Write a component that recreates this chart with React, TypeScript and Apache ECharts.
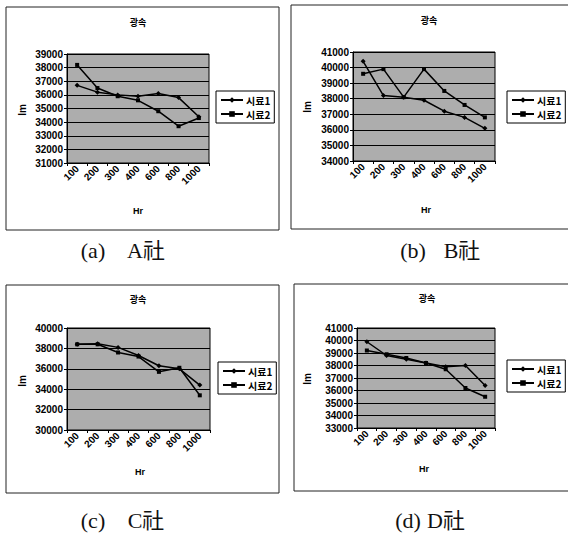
import React, { useEffect, useRef } from "react";
import * as echarts from "echarts";

const categories = ["100", "200", "300", "400", "600", "800", "1000"];

const aS1 = [36700, 36200, 36000, 35900, 36100, 35800, 34400];
const aS2 = [38200, 36500, 35900, 35600, 34800, 33700, 34300];

const bS1 = [40400, 38200, 38100, 37900, 37200, 36800, 36100];
const bS2 = [39600, 39900, 38100, 39900, 38500, 37600, 36800];

const cS1 = [38400, 38450, 38100, 37300, 36300, 36000, 34400];
const cS2 = [38400, 38400, 37600, 37200, 35700, 36100, 33400];

const dS1 = [39900, 38800, 38500, 38200, 37900, 38000, 36400];
const dS2 = [39200, 38900, 38600, 38200, 37700, 36200, 35500];

const yRanges = [
  { min: 31000, max: 39000, interval: 1000 },
  { min: 34000, max: 41000, interval: 1000 },
  { min: 30000, max: 40000, interval: 2000 },
  { min: 33000, max: 41000, interval: 1000 },
];

const seriesNames = ["시료1", "시료2"];
const chartTitle = "광속";
const yName = "lm";
const xName = "Hr";
const captionLetters = ["(a)", "(b)", "(c)", "(d)"];
const captionNames = ["A社", "B社", "C社", "D社"];

export default function App() {
  const ref = useRef<HTMLDivElement>(null);
  useEffect(() => {
    if (!ref.current) return;
    const chart = echarts.init(ref.current, null, { renderer: "svg" });

    const grids = [
      { left: 67, top: 54, width: 142, height: 109 },
      { left: 353, top: 52, width: 142, height: 109 },
      { left: 67, top: 328, width: 143, height: 102 },
      { left: 357, top: 328, width: 138, height: 100 },
    ];
    const panels = [
      { x: 6, y: 7, w: 273, h: 223, titleX: 138, titleY: 22, lmX: 22, lmY: 110, hrX: 138, hrY: 211, legX: 216, legY: 91, capAX: 93, capBX: 146, capY: 250 },
      { x: 291, y: 5, w: 280, h: 224, titleX: 429, titleY: 20, lmX: 307, lmY: 107, hrX: 426, hrY: 210, legX: 507, legY: 91, capAX: 413, capBX: 462, capY: 250 },
      { x: 6, y: 285, w: 273, h: 208, titleX: 138, titleY: 299, lmX: 22, lmY: 381, hrX: 140, hrY: 472, legX: 218, legY: 362, capAX: 93, capBX: 146, capY: 520 },
      { x: 294, y: 284, w: 280, h: 207, titleX: 427, titleY: 298, lmX: 307, lmY: 379, hrX: 424, hrY: 469, legX: 507, legY: 360, capAX: 408, capBX: 446, capY: 520 },
    ];
    const data = [
      [aS1, aS2],
      [bS1, bS2],
      [cS1, cS2],
      [dS1, dS2],
    ];

    const labelFont = { fontSize: 10, fontWeight: "bold" as const, color: "#000", fontFamily: "Liberation Sans, Arial, sans-serif" };
    const capFont = "22px 'Liberation Serif', 'Noto Sans CJK KR', serif";

    const graphic: any[] = [];
    panels.forEach((p, i) => {
      graphic.push({
        type: "rect",
        shape: { x: p.x, y: p.y, width: p.w, height: p.h },
        style: { fill: "none", stroke: "#222", lineWidth: 1 },
        silent: true,
      });
      graphic.push({
        type: "text",
        x: p.titleX,
        y: p.titleY,
        style: { text: chartTitle, align: "center", verticalAlign: "middle", textAlign: "center", textVerticalAlign: "middle", font: "bold 9px 'Noto Sans CJK KR', sans-serif", fill: "#000" },
      });
      graphic.push({
        type: "text",
        x: p.lmX,
        y: p.lmY,
        rotation: Math.PI / 2,
        style: { text: yName, align: "center", verticalAlign: "middle", textAlign: "center", textVerticalAlign: "middle", font: "bold 10px 'Liberation Sans', Arial, sans-serif", fill: "#000" },
      });
      graphic.push({
        type: "text",
        x: p.hrX,
        y: p.hrY,
        style: { text: xName, align: "center", verticalAlign: "middle", textAlign: "center", textVerticalAlign: "middle", font: "bold 9px 'Liberation Sans', Arial, sans-serif", fill: "#000" },
      });
      graphic.push({
        type: "text",
        x: p.capAX,
        y: p.capY,
        style: { text: captionLetters[i], align: "center", verticalAlign: "middle", textAlign: "center", textVerticalAlign: "middle", font: capFont, fill: "#111" },
      });
      graphic.push({
        type: "text",
        x: p.capBX,
        y: p.capY,
        style: { text: captionNames[i], align: "center", verticalAlign: "middle", textAlign: "center", textVerticalAlign: "middle", font: capFont, fill: "#111" },
      });
    });

    const option: any = {
      animation: false,
      backgroundColor: "#fff",
      grid: grids.map((g) => ({
        ...g,
        show: true,
        backgroundColor: "#adadad",
        borderColor: "#000",
        borderWidth: 1,
        containLabel: false,
      })),
      xAxis: grids.map((_, i) => ({
        type: "category",
        gridIndex: i,
        data: categories,
        boundaryGap: true,
        axisLine: { lineStyle: { color: "#000", width: 1 } },
        axisTick: { show: true, length: 3, lineStyle: { color: "#000" } },
        axisLabel: { ...labelFont, rotate: 45, margin: 4, interval: 0 },
        splitLine: { show: false },
      })),
      yAxis: grids.map((_, i) => ({
        type: "value",
        gridIndex: i,
        min: yRanges[i].min,
        max: yRanges[i].max,
        interval: yRanges[i].interval,
        axisLine: { show: true, lineStyle: { color: "#000", width: 1 } },
        axisTick: { show: true, length: 3, lineStyle: { color: "#000" } },
        axisLabel: { ...labelFont, margin: 4, formatter: (v: number) => String(v) },
        splitLine: { show: true, lineStyle: { color: "#000", width: 1 } },
      })),
      legend: panels.map((p) => ({
        data: seriesNames,
        left: p.legX,
        top: p.legY,
        orient: "vertical",
        itemWidth: 22,
        itemHeight: 7,
        itemGap: 4,
        padding: [4, 4, 4, 4],
        backgroundColor: "#fff",
        borderColor: "#000",
        borderWidth: 1,
        borderRadius: 0,
        selectedMode: false,
        textStyle: { fontSize: 10, fontWeight: "bold", color: "#000", fontFamily: "'Noto Sans CJK KR', sans-serif", padding: [0, 0, 0, -2] },
      })),
      series: data.flatMap((pair, i) =>
        pair.map((vals, k) => ({
          type: "line",
          name: seriesNames[k],
          xAxisIndex: i,
          yAxisIndex: i,
          data: vals,
          symbol: k === 0 ? "diamond" : "rect",
          symbolSize: k === 0 ? 5 : 4,
          showSymbol: true,
          lineStyle: { color: "#000", width: 1.5 },
          itemStyle: { color: "#000" },
          emphasis: { disabled: true },
        }))
      ),
      graphic,
    };

    chart.setOption(option);
    return () => chart.dispose();
  }, []);

  return (
    <div
      ref={ref}
      style={{ position: "absolute", left: 0, top: 0, width: 568, height: 533, background: "#fff" }}
    />
  );
}
